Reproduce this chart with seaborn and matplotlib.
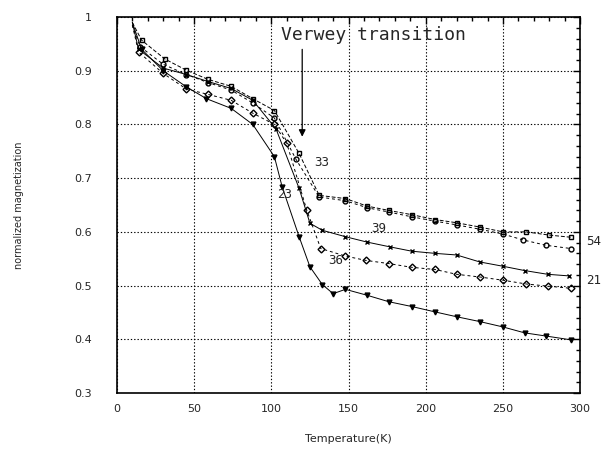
import numpy as np
import pandas as pd
import matplotlib
matplotlib.use("Agg")
import matplotlib.pyplot as plt
import seaborn as sns

# sample curves (temperature in K, normalized magnetization)
temp_54 = [10, 16, 31, 45, 59, 74, 88, 102, 118, 131, 148, 162, 176, 191, 206, 220, 235, 250, 265, 280, 294]
mag_54 = [0.99, 0.957, 0.922, 0.901, 0.884, 0.871, 0.848, 0.826, 0.746, 0.668, 0.662, 0.648, 0.640, 0.632,
          0.623, 0.617, 0.609, 0.600, 0.600, 0.594, 0.590]

temp_33 = [10, 15, 30, 45, 59, 74, 88, 102, 116, 131, 148, 162, 176, 191, 206, 220, 235, 250, 263, 278, 294]
mag_33 = [0.985, 0.945, 0.912, 0.893, 0.878, 0.864, 0.840, 0.812, 0.735, 0.665, 0.658, 0.645, 0.637, 0.628,
          0.620, 0.613, 0.605, 0.596, 0.585, 0.575, 0.569]

temp_39 = [10, 14, 30, 45, 59, 74, 88, 103, 118, 125, 133, 148, 162, 177, 191, 206, 220, 235, 250, 264, 279, 293]
mag_39 = [0.99, 0.940, 0.905, 0.893, 0.880, 0.867, 0.845, 0.792, 0.681, 0.616, 0.603, 0.591, 0.581, 0.572,
          0.564, 0.560, 0.557, 0.544, 0.536, 0.528, 0.521, 0.518]

temp_36 = [10, 14, 30, 45, 59, 74, 88, 102, 110, 123, 132, 148, 161, 176, 191, 206, 220, 235, 250, 265, 279, 294]
mag_36 = [0.985, 0.935, 0.895, 0.866, 0.856, 0.845, 0.821, 0.800, 0.765, 0.640, 0.569, 0.555, 0.547, 0.541,
          0.534, 0.530, 0.521, 0.516, 0.510, 0.503, 0.499, 0.495]

temp_23 = [10, 16, 30, 45, 58, 74, 88, 102, 107, 118, 125, 133, 140, 148, 162, 176, 191, 206, 220, 235, 250,
           264, 278, 294]
mag_23 = [0.99, 0.940, 0.900, 0.870, 0.848, 0.830, 0.800, 0.740, 0.684, 0.591, 0.535, 0.502, 0.485, 0.493,
          0.482, 0.470, 0.461, 0.451, 0.442, 0.433, 0.423, 0.412, 0.406, 0.399]

curves = [
    (temp_54, mag_54, "s", (0, (4, 2)), "none"),
    (temp_33, mag_33, "o", (0, (3, 3)), "none"),
    (temp_39, mag_39, "x", "-", "black"),
    (temp_36, mag_36, "D", (0, (3, 3)), "none"),
    (temp_23, mag_23, "v", "-", "black"),
]

# label text and where it sits
label_text = ["33", "23", "39", "36", "54", "21"]
label_x = [128, 104, 165, 137, 304, 304]
label_y = [0.730, 0.670, 0.606, 0.546, 0.582, 0.510]

sns.set_style("white")
plt.rcParams["font.family"] = ["DejaVu Sans"]

fig = plt.figure(figsize=(6.12, 4.61), dpi=100)
ax = fig.add_axes([0.191, 0.1475, 0.757, 0.8155])

for t, m, mk, ls, fc in curves:
    sns.lineplot(x=t, y=m, ax=ax, color="black", linewidth=0.7, linestyle=ls,
                 marker=mk, markersize=3.5, markerfacecolor=fc, markeredgecolor="black",
                 markeredgewidth=1.0, markevery=slice(1, None), sort=False, estimator=None)

for txt, lx, ly in zip(label_text, label_x, label_y):
    ax.text(lx, ly, txt, fontsize=9, ha="left", va="center", family="DejaVu Sans Mono")

ax.text(106, 0.967, "Verwey transition", fontsize=13, ha="left", va="center",
        family="DejaVu Sans Mono")
ax.annotate("", xy=(120, 0.772), xytext=(120, 0.945),
            arrowprops=dict(arrowstyle="-|>", color="black", lw=0.9, mutation_scale=10))

ax.set_xlim(0, 300)
ax.set_ylim(0.3, 1.0)
ax.set_xticks([0, 50, 100, 150, 200, 250, 300])
ax.set_yticks([0.3, 0.4, 0.5, 0.6, 0.7, 0.8, 0.9, 1.0])
ax.set_yticklabels(["0.3", "0.4", "0.5", "0.6", "0.7", "0.8", "0.9", "1"])
ax.set_xticks(np.arange(0, 301, 10), minor=True)
ax.set_yticks(np.arange(0.3, 1.001, 0.02), minor=True)
ax.tick_params(which="both", direction="in", top=True, right=True, color="black", labelsize=8)
ax.tick_params(which="major", length=5, width=1)
ax.tick_params(which="minor", length=3, width=1)
ax.tick_params(axis="y", pad=18)
ax.tick_params(axis="x", pad=8)
ax.grid(True, which="major", color="black", linestyle=(0, (1.2, 1.8)), linewidth=0.8)
for side in ax.spines.values():
    side.set_color("black")
    side.set_linewidth(1.2)

ax.set_xlabel("Temperature(K)", fontsize=8, labelpad=14)
ax.set_ylabel("normalized magnetization", fontsize=7, labelpad=36)

fig.savefig("out.png", dpi=100)
